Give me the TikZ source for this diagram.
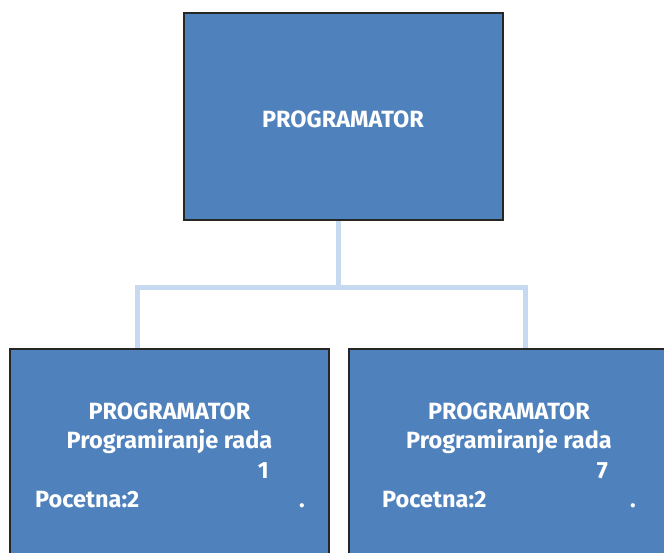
\documentclass[tikz,border=0pt]{standalone}
\usepackage{fontspec}
\setmainfont{Fira Sans}
\usetikzlibrary{positioning,calc}
\definecolor{boxblue}{HTML}{4F81BD}
\definecolor{linkblue}{HTML}{C6D9F1}
\definecolor{boxedge}{HTML}{262626}

\begin{document}
\begin{tikzpicture}[x=1pt,y=-1pt,
  box/.style={draw=boxedge,line width=2pt,fill=boxblue,minimum width=319pt,minimum height=207pt,inner sep=0pt},
  link/.style={draw=linkblue,line width=5pt},
  txt/.style={text=white,font=\bfseries\fontsize{23.5}{28}\selectfont,inner sep=0pt}]
\useasboundingbox (0,0) rectangle (664,552);
\clip (0,0) rectangle (664,552);
% boxes
\node[box] (top) at (343.5,116.5) {};
\node[box] (left) at (169.5,452.5) {};
\node[box] (right) at (508,452.5) {};
% connectors
\coordinate (hub) at (338,287);
\coordinate (jl) at (137,287);
\coordinate (jr) at (525,287);
\draw[link] (top.south -| hub) -- (hub);
\draw[link] (jl |- left.north) -- (jl) -- (jr) -- (jr |- right.north);
\node[box,fill=none] at (left) {};
\node[box,fill=none] at (right) {};
% top text
\node[txt,anchor=base] (t1) at (343,127) {PROGRAMATOR};
% left texts
\node[txt,anchor=base] (l1) at (169.5,419) {PROGRAMATOR};
\node[txt,anchor=base] (l2) at (169.5,448) {Programiranje rada};
\node[txt,anchor=base east] (l3) at (269,478) {1};
\node[txt,anchor=base west] (l4) at (35,507) {Pocetna:2};
\node[txt,anchor=base] (l5) at (302,507) {.};
% right texts
\node[txt,anchor=base] (r1) at (509,419) {PROGRAMATOR};
\node[txt,anchor=base] (r2) at (509,448) {Programiranje rada};
\node[txt,anchor=base east] (r3) at (608,478) {7};
\node[txt,anchor=base west] (r4) at (382,507) {Pocetna:2};
\node[txt,anchor=base] (r5) at (633,507) {.};
\end{tikzpicture}
\end{document}
